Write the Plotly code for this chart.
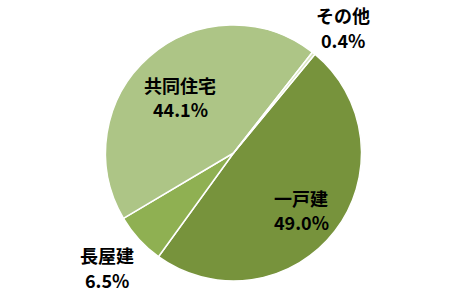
import plotly.graph_objects as go

categories = ["一戸建", "長屋建", "共同住宅", "その他"]
shares = [49.0, 6.5, 44.1, 0.4]
pct_labels = ["49.0%", "6.5%", "44.1%", "0.4%"]

colors = ["#77933C", "#8FB052", "#ADC586", "#D7E4BD"]
W, H = 452, 302
# label centres in pixels (x, y of name line, y of percent line)
label_pos = [(301, 198, 222), (107, 255, 280), (180, 85, 109), (343, 15, 40)]

fig = go.Figure(go.Pie(
    labels=categories,
    values=shares,
    sort=False,
    direction="clockwise",
    rotation=39.5,
    marker=dict(colors=colors, line=dict(color="white", width=1.5)),
    textinfo="none",
    hoverinfo="label+percent",
    showlegend=False,
    domain=dict(x=[(233.5 - 128) / W, (233.5 + 128) / W],
                y=[(149 - 128) / H, (149 + 128) / H]),
))

font = dict(family="Noto Sans CJK JP", size=18, color="#000000")
for cat, pct, (px, py1, py2) in zip(categories, pct_labels, label_pos):
    fig.add_annotation(
        x=px / W, y=1 - py1 / H, xref="paper", yref="paper",
        text=f"<b>{cat}</b>", showarrow=False,
        xanchor="center", yanchor="middle", font=font,
    )
    fig.add_annotation(
        x=px / W, y=1 - py2 / H, xref="paper", yref="paper",
        text=f"<b>{pct}</b>", showarrow=False,
        xanchor="center", yanchor="middle", font=font,
    )

fig.update_layout(
    width=W, height=H,
    margin=dict(l=0, r=0, t=0, b=0),
    paper_bgcolor="white",
    plot_bgcolor="white",
)

fig.write_html("out.html")
